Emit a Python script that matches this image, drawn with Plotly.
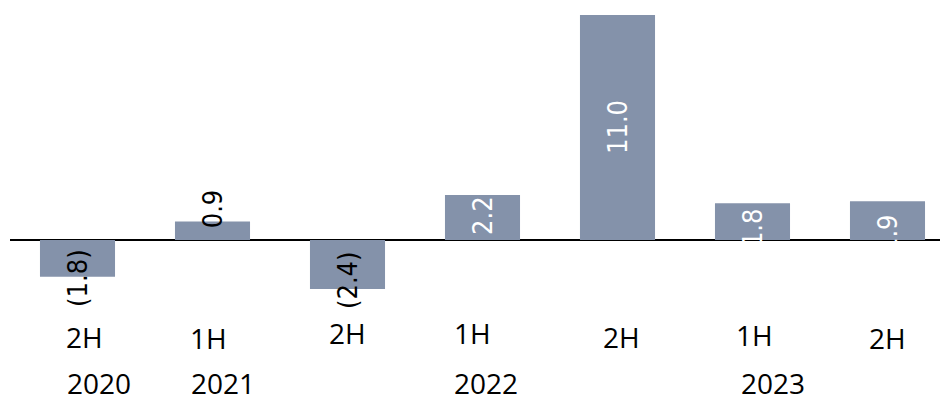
import plotly.graph_objects as go

# Half-year results
periods = ["2H 2020", "1H 2021", "2H 2021", "1H 2022", "2H 2022", "1H 2023", "2H 2023"]
halves = ["2H", "1H", "2H", "1H", "2H", "1H", "2H"]
values = [-1.8, 0.9, -2.4, 2.2, 11.0, 1.8, 1.9]
years = ["2020", "2021", "2022", "2023"]
year_slot = [0, 1, 3, 5]

W, H = 940, 395
BAR = "#8492AA"
LABEL_FONT = "DejaVu Sans Condensed, DejaVu Sans"
TICK_FONT = "Open Sans"

# layout tuning (pixels)
label_nudge = [-20, 22, -16, 2, 0, -6, -13]
half_dx = [7, -4, 0, -10, 4, 2, 0]
half_py = [337, 338, 333, 333, 337, 335, 338]
year_dx = [21, 10, 3, 20]
year_py = 383


def fmt(v):
    return f"({abs(v):.1f})" if v < 0 else f"{v:.1f}"


x = list(range(len(values)))

fig = go.Figure(
    go.Bar(x=x, y=values, marker=dict(color=BAR, line=dict(width=0)), hoverinfo="skip")
)

ann = []
for i, v in enumerate(values):
    inside_white = v > 1.5
    ann.append(dict(
        x=i, y=v / 2, xref="x", yref="y", text=fmt(v), textangle=-90,
        showarrow=False, xanchor="center", yanchor="middle", yshift=label_nudge[i],
        font=dict(family=LABEL_FONT, size=27, color="white" if inside_white else "black"),
    ))

for i, h in enumerate(halves):
    ann.append(dict(
        x=i, y=1 - half_py[i] / H, xref="x", yref="paper", text=h, showarrow=False,
        xanchor="center", yanchor="middle", xshift=half_dx[i],
        font=dict(family=TICK_FONT, size=28, color="black"),
    ))

for k, yr in enumerate(years):
    ann.append(dict(
        x=year_slot[k], y=1 - year_py / H, xref="x", yref="paper", text=yr, showarrow=False,
        xanchor="center", yanchor="middle", xshift=year_dx[k],
        font=dict(family=TICK_FONT, size=28, color="black"),
    ))

px_per_unit = 225 / 11.0
base_px = 240
fig.update_layout(
    width=W, height=H,
    margin=dict(l=10, r=0, t=0, b=0, pad=0),
    paper_bgcolor="white", plot_bgcolor="white",
    bargap=0.444, showlegend=False,
    annotations=ann,
    xaxis=dict(range=[-0.5, -0.5 + 930 / 135], showticklabels=False, showgrid=False,
               zeroline=False, showline=False, ticks="", fixedrange=True),
    yaxis=dict(range=[-(H - base_px) / px_per_unit, base_px / px_per_unit],
               showticklabels=False, showgrid=False, showline=False, ticks="",
               zeroline=True, zerolinecolor="black", zerolinewidth=2, fixedrange=True),
)

fig.write_html("out.html", config={"displayModeBar": False})
